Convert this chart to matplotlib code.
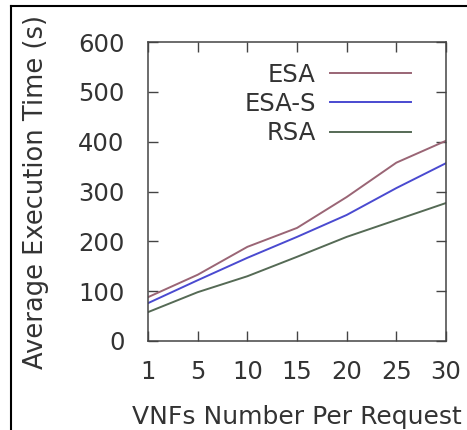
import matplotlib
matplotlib.use('Agg')
import matplotlib.pyplot as plt
from matplotlib.lines import Line2D

# Data
vnf_labels = ['1', '5', '10', '15', '20', '25', '30']
esa = [88, 133, 189, 227, 289, 358, 402]
esa_s = [76, 122, 167, 209, 253, 307, 357]
rsa = [58, 98, 130, 169, 209, 243, 277]
series_names = ['ESA', 'ESA-S', 'RSA']
y_ticks = [0, 100, 200, 300, 400, 500, 600]

# positions on the axis (first tick sits on the left edge)
x_pos = [5 * i for i in range(len(vnf_labels))]

colors = ['#9a6575', '#4a4ad0', '#556a55']
text_color = '#333333'

plt.rcParams['font.family'] = 'DejaVu Sans'
fig = plt.figure(figsize=(4.67, 4.30), dpi=100)
ax = fig.add_axes([0.317, 0.207, 0.638, 0.695])

for vals, name, col in zip([esa, esa_s, rsa], series_names, colors):
    ax.plot(x_pos, vals, color=col, lw=1.4, label=name)

ax.set_xlim(0, 30)
ax.set_ylim(0, 600)
ax.set_xticks(x_pos)
ax.set_xticklabels(vnf_labels)
ax.set_yticks(y_ticks)
ax.tick_params(direction='in', length=7, width=1, top=True, right=True,
               labelsize=17.5, labelcolor=text_color, color='#444444')
ax.tick_params(axis='y', pad=17)
ax.tick_params(axis='x', pad=14)
for sp in ax.spines.values():
    sp.set_color('#444444')
    sp.set_linewidth(1.1)

ax.set_xlabel('VNFs Number Per Request', fontsize=18, color=text_color, labelpad=15)
ax.set_ylabel('Average Execution Time (s)', fontsize=18.5, color=text_color, labelpad=21)

leg = ax.legend(loc='upper right', frameon=False, markerfirst=False,
                fontsize=17.5, handlelength=3.3, handletextpad=0.6,
                labelspacing=0.22, bbox_to_anchor=(0.955, 1.005))
for t in leg.get_texts():
    t.set_color(text_color)

# scanned-figure border (left and top edges)
fig.add_artist(Line2D([0.024, 0.024], [0.0, 0.987], color='black', lw=1.5,
                      transform=fig.transFigure))
fig.add_artist(Line2D([0.024, 1.0], [0.987, 0.987], color='black', lw=1.5,
                      transform=fig.transFigure))

fig.savefig('out.png', dpi=100)
